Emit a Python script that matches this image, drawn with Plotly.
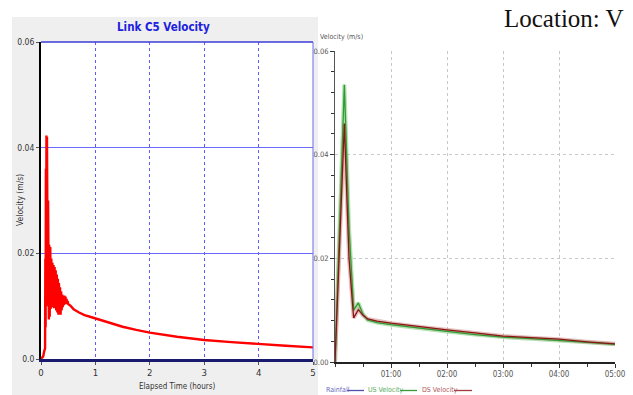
import plotly.graph_objects as go

W, H = 633, 395

# ---------------- data: left (SWMM Link C5 velocity, m/s vs hours) -------------
c5_hours = [0.00, 0.04, 0.06, 0.075, 0.08, 0.085, 0.09, 0.095, 0.10, 0.105, 0.11, 0.115,
            0.12, 0.125, 0.13, 0.135, 0.14, 0.145, 0.15, 0.16, 0.17, 0.18, 0.19, 0.20,
            0.21, 0.22, 0.23, 0.24, 0.25, 0.26, 0.27, 0.28, 0.29, 0.30, 0.31, 0.32,
            0.33, 0.34, 0.35, 0.36, 0.37, 0.38, 0.39, 0.40, 0.41, 0.42, 0.43, 0.44,
            0.45, 0.46, 0.47, 0.48, 0.49, 0.50, 0.55, 0.60, 0.70, 0.80, 0.90, 1.00,
            1.25, 1.50, 1.75, 2.00, 2.50, 3.00, 3.50, 4.00, 4.50, 5.00]
c5_velocity = [0.0, 0.0005, 0.0015, 0.002, 0.019, 0.006, 0.036, 0.012, 0.0423, 0.020, 0.0420, 0.015,
               0.039, 0.010, 0.030, 0.008, 0.024, 0.0075, 0.0216, 0.0080, 0.0212, 0.0095, 0.0190, 0.0098,
               0.0182, 0.0100, 0.0178, 0.0096, 0.0174, 0.0098, 0.0168, 0.0092, 0.0160, 0.0088, 0.0152, 0.0084,
               0.0144, 0.0086, 0.0136, 0.0084, 0.0128, 0.0092, 0.0122, 0.0098, 0.0118, 0.0102, 0.0120, 0.0104,
               0.0118, 0.0106, 0.0114, 0.0104, 0.0110, 0.0104, 0.0100, 0.0094, 0.0088, 0.0083, 0.0080, 0.0077,
               0.0068, 0.0061, 0.0055, 0.0050, 0.0042, 0.0036, 0.0032, 0.0028, 0.0025, 0.0022]

# ---------------- data: right (US / DS velocity, m/s vs hours) -----------------
flow_hours = [0, 0.083, 0.167, 0.25, 0.333, 0.417, 0.5, 0.583, 0.75, 1.0,
              1.5, 2.0, 2.5, 3.0, 3.5, 4.0, 4.5, 5.0]
us_velocity = [0, 0.0265, 0.0535, 0.026, 0.0100, 0.0114, 0.0092, 0.0081, 0.0076, 0.0072,
               0.0065, 0.0059, 0.0053, 0.0048, 0.0045, 0.0042, 0.0038, 0.0034]
ds_velocity = [0, 0.0225, 0.0460, 0.020, 0.0085, 0.0101, 0.0090, 0.0083, 0.0079, 0.0075,
               0.0068, 0.0062, 0.0056, 0.0050, 0.0047, 0.0044, 0.0039, 0.0035]

left_xticks = [0, 1, 2, 3, 4, 5]
left_yticks = [0, 0.02, 0.04, 0.06]
left_ylabels = ["0.0", "0.02", "0.04", "0.06"]
right_xticks = [1, 2, 3, 4, 5]
right_xlabels = ["01:00", "02:00", "03:00", "04:00", "05:00"]
right_yticks = [0, 0.02, 0.04, 0.06]
right_ylabels = ["0.00", "0.02", "0.04", "0.06"]
legend_names = ["Rainfall", "US Velocity", "DS Velocity"]
legend_colors = ["#5050b0", "#3a9a3a", "#a03c3c"]
legend_text_colors = ["#6a6ac0", "#5aaa5a", "#b05a5a"]


def px(x):
    return x / W


def py(y):
    return 1 - y / H


NARROW = "Liberation Sans Narrow, DejaVu Sans Condensed, Arial Narrow, Liberation Sans, Arial, sans-serif"

fig = go.Figure()

# left chart
fig.add_trace(go.Scatter(x=c5_hours, y=c5_velocity, mode="lines",
                         line=dict(color="#ff0000", width=2.4), xaxis="x", yaxis="y",
                         showlegend=False, hoverinfo="skip"))

# right chart (halo + line)
for vals, halo in [(us_velocity, "rgba(120,200,120,0.55)"),
                   (ds_velocity, "rgba(210,140,140,0.55)")]:
    fig.add_trace(go.Scatter(x=flow_hours, y=vals, mode="lines",
                             line=dict(color=halo, width=4), xaxis="x2", yaxis="y2",
                             showlegend=False, hoverinfo="skip"))
for vals, col in [(us_velocity, "#2f9a2f"), (ds_velocity, "#8b1515")]:
    fig.add_trace(go.Scatter(x=flow_hours, y=vals, mode="lines",
                             line=dict(color=col, width=1.3), xaxis="x2", yaxis="y2",
                             showlegend=False, hoverinfo="skip"))

fig.update_layout(
    width=W, height=H, margin=dict(l=0, r=0, t=0, b=0, autoexpand=False),
    paper_bgcolor="white", plot_bgcolor="white",
    xaxis=dict(domain=[px(41), px(313)], range=[0, 5], tickvals=left_xticks,
               showgrid=True, gridcolor="#5a5aff", griddash="dot", gridwidth=1,
               showline=True, linecolor="#1a1a6e", linewidth=2.5,
               ticks="outside", ticklen=3, tickcolor="#555",
               tickfont=dict(family=NARROW, size=9.5, color="#333"),
               zeroline=False, fixedrange=True, automargin=False),
    yaxis=dict(domain=[py(359), py(42)], range=[0, 0.06], tickvals=left_yticks,
               ticktext=left_ylabels, showgrid=True, gridcolor="#6a6aff",
               griddash="solid", gridwidth=1,
               showline=True, linecolor="#000000", linewidth=2,
               ticks="outside", ticklen=3, tickcolor="#555",
               tickfont=dict(family=NARROW, size=8.5, color="#333"),
               zeroline=False, anchor="x", fixedrange=True, automargin=False),
    xaxis2=dict(domain=[px(335), px(615)], range=[0, 5], tickvals=right_xticks,
                ticktext=right_xlabels, anchor="y2",
                showgrid=True, gridcolor="#c8c8c8", griddash="dot", gridwidth=1,
                showline=True, linecolor="#222", linewidth=1.5,
                ticks="outside", ticklen=4, tickcolor="#333",
                minor=dict(dtick=0.5, tick0=0, ticks="outside", ticklen=3,
                           tickcolor="#333", showgrid=False),
                tickfont=dict(family=NARROW, size=8, color="#555"),
                zeroline=False, fixedrange=True, automargin=False),
    yaxis2=dict(domain=[py(362), py(51)], range=[0, 0.06], tickvals=right_yticks,
                ticktext=right_ylabels, anchor="x2",
                showgrid=True, gridcolor="#c8c8c8", griddash="dot", gridwidth=1,
                showline=True, linecolor="#555", linewidth=1,
                ticks="outside", ticklen=4, tickcolor="#333",
                minor=dict(dtick=0.004, tick0=0, ticks="outside", ticklen=3,
                           tickcolor="#333", showgrid=False),
                tickfont=dict(family=NARROW, size=7.5, color="#555"),
                zeroline=False, fixedrange=True, automargin=False),
    showlegend=False,
)

shapes = [
    # grey window panel of the left screenshot
    dict(type="rect", xref="paper", yref="paper", x0=px(12), x1=px(318), y0=0, y1=py(17),
         fillcolor="#efefef", line=dict(width=0), layer="below"),
    dict(type="rect", xref="paper", yref="paper", x0=px(41), x1=px(313), y0=py(359), y1=py(42),
         fillcolor="white", line=dict(width=0), layer="below"),
    # top and right frame of the left plot
    dict(type="line", xref="x domain", yref="y domain", x0=0, x1=1, y0=1, y1=1,
         line=dict(color="#3b3bd6", width=1.5)),
    dict(type="line", xref="x domain", yref="y domain", x0=1, x1=1, y0=0, y1=1,
         line=dict(color="#6a6af0", width=1)),
]

annotations = [
    dict(text="<b>Link C5 Velocity</b>", x=px(164), y=py(27), xref="paper", yref="paper",
         showarrow=False, font=dict(family=NARROW, size=11.5, color="#2020e0"),
         xanchor="center", yanchor="middle"),
    dict(text="Velocity (m/s)", x=px(20), y=py(200), xref="paper", yref="paper",
         showarrow=False, textangle=-90, font=dict(family=NARROW, size=8.5, color="#333"),
         xanchor="center", yanchor="middle"),
    dict(text="Elapsed Time (hours)", x=px(177), y=py(386), xref="paper", yref="paper",
         showarrow=False, font=dict(family=NARROW, size=8, color="#333"),
         xanchor="center", yanchor="middle"),
    dict(text="Location: V", x=px(626), y=py(18), xref="paper", yref="paper",
         showarrow=False, font=dict(family="Liberation Serif, DejaVu Serif, serif", size=25,
                                    color="#111"),
         xanchor="right", yanchor="middle"),
    dict(text="Velocity (m/s)", x=px(318), y=py(37), xref="paper", yref="paper",
         showarrow=False, font=dict(family=NARROW, size=7, color="#555"),
         xanchor="left", yanchor="middle"),
]

# legend of the right screenshot: name followed by a line sample
legend_text_x = [324, 366, 420]
legend_line_x = [(347, 364), (400, 417), (454, 472)]
for name, tcol, lcol, tx, (l0, l1) in zip(legend_names, legend_text_colors, legend_colors,
                                          legend_text_x, legend_line_x):
    annotations.append(dict(text=name, x=px(tx), y=py(390), xref="paper", yref="paper",
                            showarrow=False, font=dict(family=NARROW, size=7, color=tcol),
                            xanchor="left", yanchor="middle"))
    shapes.append(dict(type="line", xref="paper", yref="paper", x0=px(l0), x1=px(l1),
                       y0=py(390.5), y1=py(390.5), line=dict(color=lcol, width=1.3)))

fig.update_layout(shapes=shapes, annotations=annotations)

fig.write_html("out.html", config={"displayModeBar": False, "staticPlot": True},
               post_script="document.body.style.margin='0';document.body.style.overflow='hidden';")
